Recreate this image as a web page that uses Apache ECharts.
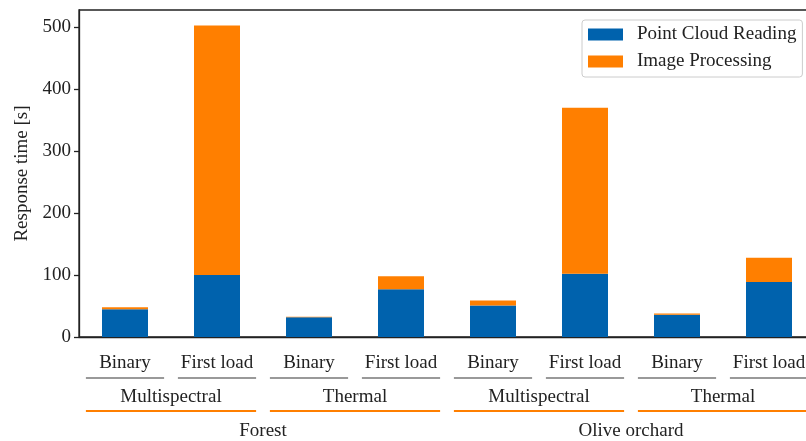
<!DOCTYPE html>
<html>
<head>
<meta charset="utf-8">
<script src="https://cdn.jsdelivr.net/npm/echarts@6/dist/echarts.min.js"></script>
<style>
  html, body { margin: 0; padding: 0; background: #fff; }
  #chart { width: 806px; height: 441px; }
</style>
</head>
<body>
<div id="chart"></div>
<script>
// Response time per dataset, split into point-cloud reading and image processing
const categories = ['Binary', 'First load', 'Binary', 'First load', 'Binary', 'First load', 'Binary', 'First load'];
const sensorGroups = ['Multispectral', 'Thermal', 'Multispectral', 'Thermal'];
const sites = ['Forest', 'Olive orchard'];
const pointCloudReading = [45, 100, 32, 77, 51, 102, 36, 89];
const imageProcessing = [3, 403, 0.5, 21, 8, 268, 2, 39];
const yTicks = [0, 100, 200, 300, 400, 500];

const FONT = 'Liberation Serif';
const FS = 19;
const BLUE = '#0062AD';
const ORANGE = '#FF7F00';
const INK = '#222';

const chart = echarts.init(document.getElementById('chart'), null, { renderer: 'canvas' });

chart.setOption({
  animation: false,
  textStyle: { fontFamily: FONT, color: INK },
  grid: {
    left: 79, top: 10, width: 736, height: 327,
    outerBoundsMode: 'none', containLabel: false,
    show: true, borderColor: INK, borderWidth: 1.3, backgroundColor: 'transparent'
  },
  legend: {
    orient: 'vertical',
    left: 582, top: 20,
    padding: [5, 6, 6, 6],
    itemGap: 8,
    itemWidth: 35, itemHeight: 12,
    borderColor: '#ccc', borderWidth: 1, borderRadius: 3,
    backgroundColor: '#fff',
    icon: 'rect',
    textStyle: { fontFamily: FONT, fontSize: FS, color: INK, padding: [0, 0, 0, 9] },
    data: ['Point Cloud Reading', 'Image Processing']
  },
  xAxis: {
    type: 'category',
    data: categories,
    axisLine: { lineStyle: { color: INK, width: 1.3 } },
    axisTick: { alignWithLabel: true, length: 5, lineStyle: { color: INK, width: 1.3 } },
    axisLabel: { interval: 0, margin: 16, fontSize: FS, fontFamily: FONT, color: INK, lineHeight: 20 },
    splitLine: { show: false }
  },
  yAxis: {
    type: 'value',
    min: 0, max: 528, interval: 100,
    name: 'Response time [s]',
    nameLocation: 'middle',
    nameGap: 47,
    nameTextStyle: { fontFamily: FONT, fontSize: FS, color: INK },
    axisLine: { show: true, lineStyle: { color: INK, width: 1.3 } },
    axisTick: { show: true, length: 5, customValues: yTicks, lineStyle: { color: INK, width: 1.3 } },
    axisLabel: { customValues: yTicks, margin: 8, fontSize: FS, fontFamily: FONT, color: INK },
    splitLine: { show: false }
  },
  series: [
    {
      name: 'Point Cloud Reading', type: 'bar', stack: 'time',
      barWidth: '50%', data: pointCloudReading,
      itemStyle: { color: BLUE }
    },
    {
      name: 'Image Processing', type: 'bar', stack: 'time',
      barWidth: '50%', data: imageProcessing,
      itemStyle: { color: ORANGE }
    }
  ]
});

// Hierarchical category labels under the x axis, placed from the axis scale
function drawGroupLabels() {
  const px = i => chart.convertToPixel({ xAxisIndex: 0 }, i);
  const band = px(1) - px(0);
  const half = band * 0.425;
  const els = [];

  // Underline below each category label
  categories.forEach((c, i) => {
    const x = px(i);
    els.push({ type: 'line', shape: { x1: x - half, y1: 378, x2: x + half, y2: 378 },
      style: { stroke: '#999', lineWidth: 2 }, silent: true });
  });

  // Sensor groups (two categories each)
  sensorGroups.forEach((g, k) => {
    const a = px(2 * k), b = px(2 * k + 1);
    els.push({ type: 'text', x: (a + b) / 2, y: 397,
      style: { text: g, fontFamily: FONT, fontSize: FS, fill: INK, align: 'center', verticalAlign: 'middle' }, silent: true });
    els.push({ type: 'line', shape: { x1: a - half, y1: 411, x2: b + half, y2: 411 },
      style: { stroke: ORANGE, lineWidth: 2 }, silent: true });
  });

  // Sites (four categories each)
  sites.forEach((s, k) => {
    const a = px(4 * k), b = px(4 * k + 3);
    els.push({ type: 'text', x: (a + b) / 2, y: 431,
      style: { text: s, fontFamily: FONT, fontSize: FS, fill: INK, align: 'center', verticalAlign: 'middle' }, silent: true });
  });

  chart.setOption({ graphic: els });
}
drawGroupLabels();
</script>
</body>
</html>
